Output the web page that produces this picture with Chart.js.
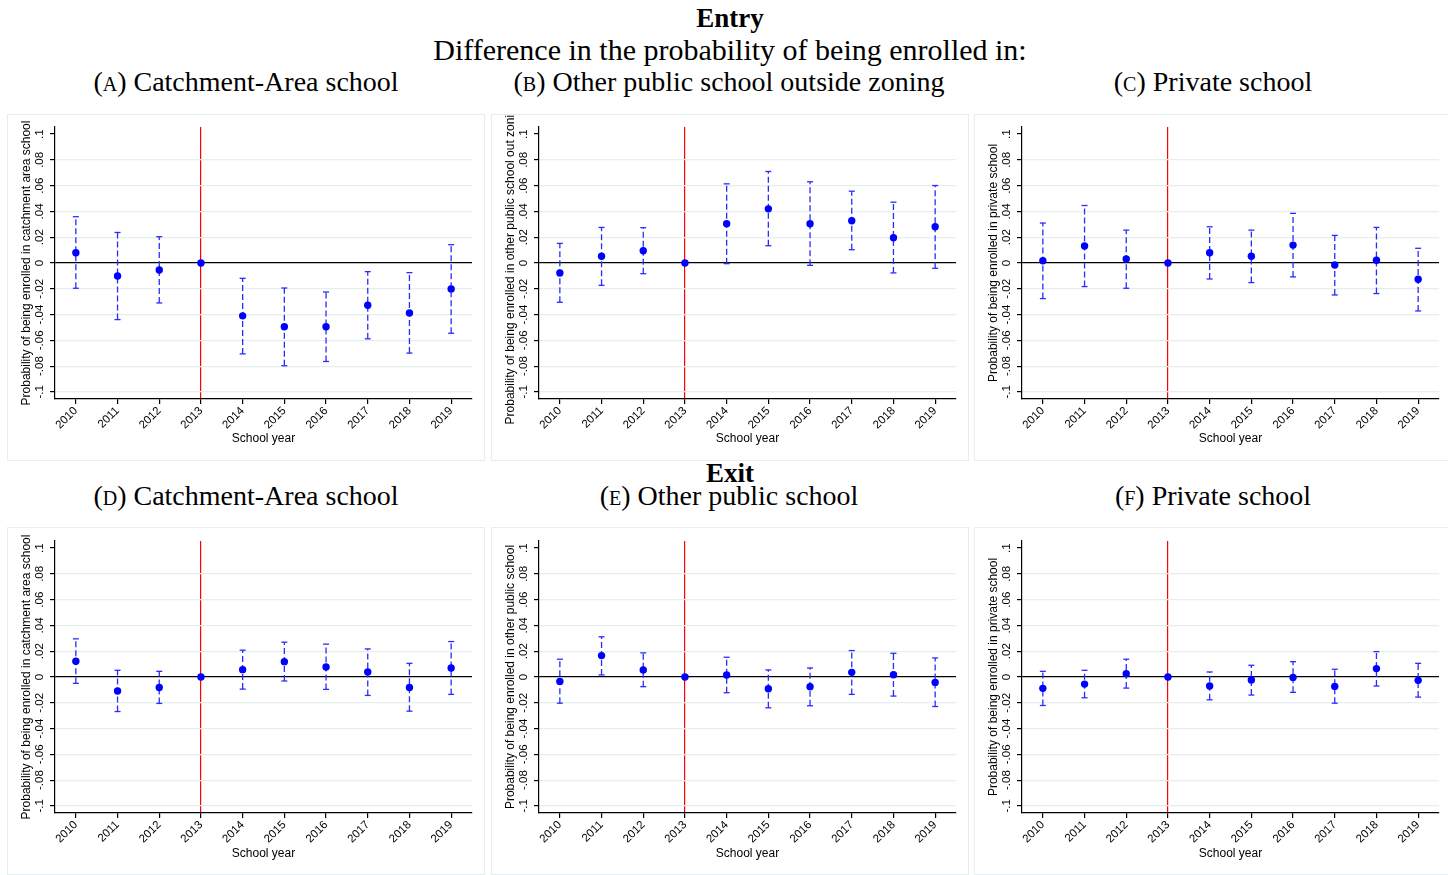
<!DOCTYPE html>
<html>
<head>
<meta charset="utf-8">
<script src="https://cdn.jsdelivr.net/npm/chart.js@4.4.1/dist/chart.umd.min.js"></script>
<style>
  html, body { margin: 0; padding: 0; background: #fff; overflow: hidden; width: 1448px; height: 875px; }
  .t { position: absolute; width: 800px; height: 40px; line-height: 40px; text-align: center;
       font-family: 'Liberation Serif', 'Times New Roman', serif; color: #000; white-space: nowrap; }
  .sc { font-variant: small-caps; }
  .box { position: absolute; border: 1.5px solid #e7eeef; box-sizing: border-box; }
  canvas { position: absolute; }
</style>
</head>
<body>

<div class="t" style="left:330px; top:-2px; font-size:27px; font-weight:bold;">Entry</div>
<div class="t" style="left:330px; top:30px; font-size:30px;">Difference in the probability of being enrolled in:</div>
<div class="t" style="left:-154px; top:62px; font-size:28px;">(<span class="sc">a</span>) Catchment-Area school</div>
<div class="t" style="left:329px; top:62px; font-size:28px;">(<span class="sc">b</span>) Other public school outside zoning</div>
<div class="t" style="left:813px; top:62px; font-size:28px;">(<span class="sc">c</span>) Private school</div>

<div class="t" style="left:330px; top:453px; font-size:27px; font-weight:bold;">Exit</div>
<div class="t" style="left:-154px; top:476px; font-size:28px;">(<span class="sc">d</span>) Catchment-Area school</div>
<div class="t" style="left:329px; top:476px; font-size:28px;">(<span class="sc">e</span>) Other public school</div>
<div class="t" style="left:813px; top:476px; font-size:28px;">(<span class="sc">f</span>) Private school</div>

<div class="box" style="left:7px;   top:114px; width:478px; height:347px;"></div>
<div class="box" style="left:491px; top:114px; width:478px; height:347px;"></div>
<div class="box" style="left:974px; top:114px; width:478px; height:347px;"></div>
<div class="box" style="left:7px;   top:527px; width:478px; height:348px;"></div>
<div class="box" style="left:491px; top:527px; width:478px; height:348px;"></div>
<div class="box" style="left:974px; top:527px; width:478px; height:348px;"></div>

<canvas id="pA" width="476" height="345" style="left:8px;   top:115px;"></canvas>
<canvas id="pB" width="476" height="345" style="left:492px; top:115px;"></canvas>
<canvas id="pC" width="476" height="345" style="left:975px; top:115px;"></canvas>
<canvas id="pD" width="476" height="346" style="left:8px;   top:529px;"></canvas>
<canvas id="pE" width="476" height="346" style="left:492px; top:529px;"></canvas>
<canvas id="pF" width="476" height="346" style="left:975px; top:529px;"></canvas>

<script>
// School years on the x axis and tick labels of the y axis
const years = [2010, 2011, 2012, 2013, 2014, 2015, 2016, 2017, 2018, 2019];
const reformYear = 2013;
const yTickValues = [-0.1, -0.08, -0.06, -0.04, -0.02, 0, 0.02, 0.04, 0.06, 0.08, 0.1];
const yTickLabels = ['-.1', '-.08', '-.06', '-.04', '-.02', '0', '.02', '.04', '.06', '.08', '.1'];

// Entry: catchment-area school
const entryCatchCoef = [0.008, -0.0101, -0.0054, 0, -0.041, -0.0495, -0.0495, -0.0328, -0.0387, -0.0201];
const entryCatchLo   = [-0.0196, -0.0439, -0.031, 0, -0.0705, -0.0797, -0.0764, -0.0588, -0.0699, -0.0545];
const entryCatchHi   = [0.0359, 0.0237, 0.0204, 0, -0.0119, -0.0194, -0.0225, -0.0067, -0.0075, 0.0142];

// Entry: other public school outside zoning
const entryOtherCoef = [-0.0077, 0.0052, 0.0095, 0, 0.0305, 0.042, 0.0305, 0.0328, 0.0196, 0.0281];
const entryOtherLo   = [-0.0305, -0.0173, -0.0083, 0, -0.0005, 0.0134, -0.0018, 0.0103, -0.0077, -0.0041];
const entryOtherHi   = [0.0152, 0.0276, 0.0274, 0, 0.0614, 0.071, 0.063, 0.0557, 0.0472, 0.0601];

// Entry: private school
const entryPrivCoef = [0.0018, 0.0132, 0.0031, 0, 0.008, 0.0052, 0.0139, -0.0015, 0.0021, -0.0126];
const entryPrivLo   = [-0.0276, -0.0183, -0.0196, 0, -0.0124, -0.0152, -0.0108, -0.0248, -0.0237, -0.0372];
const entryPrivHi   = [0.031, 0.0446, 0.0255, 0, 0.0281, 0.0255, 0.0385, 0.0214, 0.0276, 0.0114];

// Exit: catchment-area school
const exitCatchCoef = [0.0122, -0.0109, -0.0081, 0, 0.0057, 0.0119, 0.0078, 0.0039, -0.0081, 0.007];
const exitCatchLo   = [-0.0049, -0.0268, -0.0205, 0, -0.0094, -0.0031, -0.0096, -0.0143, -0.0265, -0.0135];
const exitCatchHi   = [0.0296, 0.0052, 0.0044, 0, 0.0208, 0.027, 0.0255, 0.0218, 0.0106, 0.0275];

// Exit: other public school
const exitOtherCoef = [-0.0034, 0.0166, 0.0055, 0, 0.0016, -0.0091, -0.0075, 0.0036, 0.0018, -0.0042];
const exitOtherLo   = [-0.0203, 0.0016, -0.0075, 0, -0.0122, -0.0239, -0.0223, -0.0135, -0.0148, -0.0229];
const exitOtherHi   = [0.0138, 0.0312, 0.0187, 0, 0.0153, 0.0055, 0.007, 0.0205, 0.0184, 0.0148];

// Exit: private school
const exitPrivCoef = [-0.0088, -0.0055, 0.0026, 0, -0.007, -0.0023, -0.0003, -0.0073, 0.0065, -0.0026];
const exitPrivLo   = [-0.0221, -0.0161, -0.0086, 0, -0.0177, -0.014, -0.0119, -0.0203, -0.007, -0.0156];
const exitPrivHi   = [0.0044, 0.0052, 0.0138, 0, 0.0039, 0.0091, 0.0119, 0.006, 0.0197, 0.0106];

const tickFont = { family: "'Liberation Sans', Arial, sans-serif", size: 11.5 };
const titleFont = { family: "'Liberation Sans', Arial, sans-serif", size: 12 };
const markerBlue = '#0000ff';
const ciBlue = '#2b2bff';
const gridTint = '#e6eff0';

function ciSegments(lo, hi) {
  // one dashed segment per year, separated by gaps
  const pts = [];
  years.forEach((yr, i) => {
    pts.push({ x: yr, y: lo[i] }, { x: yr, y: hi[i] }, { x: yr, y: null });
  });
  return pts;
}

function drawPanel(id, coef, lo, hi, yTitle) {
  new Chart(document.getElementById(id), {
    type: 'line',
    data: {
      datasets: [
        {
          data: ciSegments(lo, hi),
          spanGaps: false,
          borderColor: ciBlue,
          borderWidth: 1.3,
          borderDash: [6, 3],
          pointStyle: 'line',
          pointRadius: 3,
          pointBorderWidth: 1.3,
          pointBorderColor: ciBlue,
          pointHoverRadius: 3,
          order: 2
        },
        {
          data: years.map((yr, i) => ({ x: yr, y: coef[i] })),
          showLine: false,
          pointStyle: 'circle',
          pointRadius: 3.7,
          pointBorderWidth: 0,
          pointBackgroundColor: markerBlue,
          pointBorderColor: markerBlue,
          order: 1
        }
      ]
    },
    options: {
      responsive: false,
      animation: false,
      events: [],
      layout: { padding: { top: 12, right: 12, left: 0, bottom: 0 } },
      plugins: { legend: { display: false }, tooltip: { enabled: false } },
      scales: {
        x: {
          type: 'linear',
          min: 2009.5,
          max: 2019.5,
          afterBuildTicks: s => { s.ticks = years.map(v => ({ value: v })); },
          afterFit: s => { s.height = s.chart.height - 284; s.paddingLeft = 0; s.paddingRight = 0; },
          ticks: {
            callback: v => String(v),
            minRotation: 45,
            maxRotation: 45,
            autoSkip: false,
            padding: 0,
            color: '#000',
            font: tickFont
          },
          grid: {
            color: c => (c.tick && c.tick.value === reformYear) ? '#ff0000' : 'rgba(0,0,0,0)',
            lineWidth: 1.2,
            tickColor: '#000',
            tickLength: 5
          },
          border: { display: true, color: '#000', width: 1.2 },
          title: {
            display: true,
            text: 'School year',
            color: '#000',
            font: titleFont,
            padding: { top: 0, bottom: 14.5 }
          }
        },
        y: {
          type: 'linear',
          min: -0.1055,
          max: 0.1055,
          afterBuildTicks: s => { s.ticks = yTickValues.map(v => ({ value: v })); },
          afterFit: s => { s.width = 47; s.paddingTop = 0; s.paddingBottom = 0; },
          ticks: {
            callback: (v, i) => yTickLabels[i],
            minRotation: 90,
            maxRotation: 90,
            crossAlign: 'center',
            padding: 0,
            color: '#000',
            font: tickFont
          },
          grid: {
            color: c => {
              if (!c.tick) return gridTint;
              if (c.tick.value === 0) return '#000';
              if (c.tick.value === 0.1) return 'rgba(0,0,0,0)';
              return gridTint;
            },
            lineWidth: 1.2,
            tickColor: '#000',
            tickLength: 5
          },
          border: { display: true, color: '#000', width: 1.2 },
          title: {
            display: true,
            text: yTitle,
            color: '#000',
            font: titleFont,
            padding: { top: 11.5, bottom: 0 }
          }
        }
      }
    }
  });
}

drawPanel('pA', entryCatchCoef, entryCatchLo, entryCatchHi, 'Probability of being enrolled in catchment area school');
drawPanel('pB', entryOtherCoef, entryOtherLo, entryOtherHi, 'Probability of being enrolled in other public school out zoning');
drawPanel('pC', entryPrivCoef, entryPrivLo, entryPrivHi, 'Probability of being enrolled in private school');
drawPanel('pD', exitCatchCoef, exitCatchLo, exitCatchHi, 'Probability of being enrolled in catchment area school');
drawPanel('pE', exitOtherCoef, exitOtherLo, exitOtherHi, 'Probability of being enrolled in other public school');
drawPanel('pF', exitPrivCoef, exitPrivLo, exitPrivHi, 'Probability of being enrolled in private school');
</script>
</body>
</html>
